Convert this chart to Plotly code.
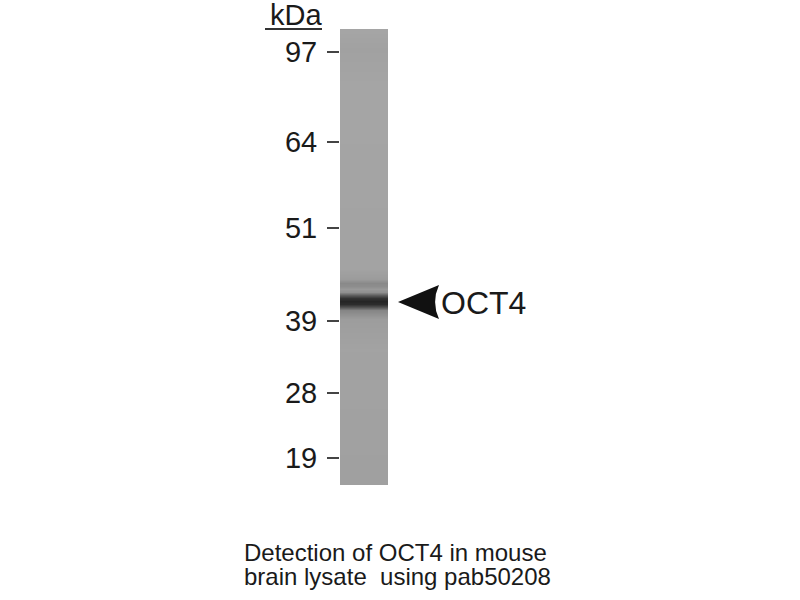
import plotly.graph_objects as go

# marker ladder (kDa) and migration distance from top of lane (same units as y axis)
marker_kda = [97, 64, 51, 39, 28, 19]
marker_pos = [23, 113, 199, 292, 364, 429]

# lane density profile (0 = clear lane, 1 = darkest band)
lane_pos = [0, 20, 60, 150, 240, 250, 254, 257, 260, 263, 266, 269, 272, 275, 278, 281, 290, 320, 400, 456]
lane_density = [0.04, 0.07, 0.04, 0.05, 0.06, 0.11, 0.24, 0.21, 0.13, 0.20, 0.55, 0.85, 0.95, 0.90, 0.62, 0.27, 0.10, 0.06, 0.07, 0.08]

band_label = "OCT4"
band_pos = 273
caption_1 = "Detection of OCT4 in mouse"
caption_2 = "brain lysate\u00a0\u00a0using pab50208"

FONT = "Liberation Sans, Arial, sans-serif"

fig = go.Figure()

# la piste du gel
fig.add_trace(go.Heatmap(
    x=[0, 1],
    y=lane_pos,
    z=[[d, d] for d in lane_density],
    zmin=0, zmax=1,
    zsmooth="best",
    colorscale=[[0, "#ababab"], [1, "#1e1e1e"]],
    showscale=False,
    hoverinfo="skip"
))

# flèche vers la bande
fig.add_shape(
    type="path",
    xref="paper", yref="y",
    path="M 1.2083,%d L 2.0625,%d Q 1.90,%d 2.0625,%d Z" % (band_pos, band_pos - 17, band_pos, band_pos + 17),
    fillcolor="#111111",
    line=dict(width=0)
)

fig.add_annotation(
    xref="paper", yref="y",
    x=2.07, y=band_pos + 1,
    text=band_label,
    showarrow=False,
    xanchor="left", yanchor="middle",
    font=dict(family=FONT, size=32, color="#1a1a1a")
)

# kDa + soulignement
fig.add_annotation(
    xref="paper", yref="paper",
    x=-0.33, y=1.031,
    text="kDa",
    showarrow=False,
    xanchor="right", yanchor="middle",
    font=dict(family=FONT, size=29, color="#1a1a1a")
)
fig.add_shape(
    type="line",
    xref="paper", yref="paper",
    x0=-1.5625, x1=-0.375, y0=1.0, y1=1.0,
    line=dict(color="#333333", width=2)
)

# légende en bas (deux lignes serrées, comme sur l'original)
for txt, ypos in [(caption_1, -0.147), (caption_2, -0.200)]:
    fig.add_annotation(
        xref="paper", yref="paper",
        x=-2.04, y=ypos,
        text=txt,
        showarrow=False,
        xanchor="left", yanchor="middle",
        font=dict(family=FONT, size=24, color="#1a1a1a")
    )

fig.update_layout(
    width=800, height=600,
    margin=dict(l=340, r=412, t=29, b=115),
    paper_bgcolor="white",
    plot_bgcolor="white",
    showlegend=False,
    xaxis=dict(visible=False, range=[-0.5, 1.5], fixedrange=True),
    yaxis=dict(
        range=[456, 0],
        tickvals=marker_pos,
        ticktext=[str(k) for k in marker_kda],
        ticks="outside",
        ticklen=12,
        tickwidth=2,
        tickcolor="#444444",
        ticklabelstandoff=4,
        tickfont=dict(family=FONT, size=29, color="#1a1a1a"),
        showgrid=False,
        zeroline=False,
        showline=False,
        fixedrange=True
    )
)

# pas de marge autour de la page
fig.write_html(
    "out.html",
    config={"displayModeBar": False},
    post_script="document.body.style.margin = '0px';"
)
